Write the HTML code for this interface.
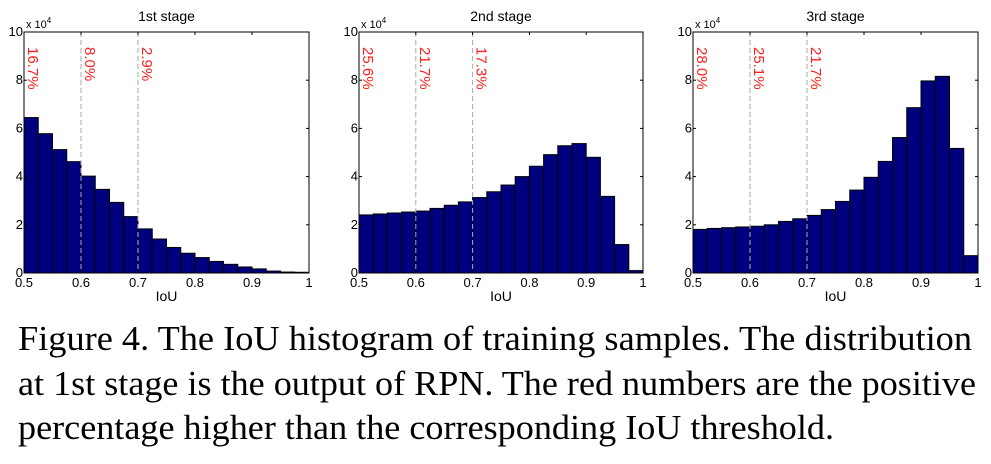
<!DOCTYPE html>
<html><head><meta charset="utf-8">
<style>
html,body{margin:0;padding:0;background:#fff;width:991px;height:464px;overflow:hidden}
svg{display:block}
</style></head>
<body>
<svg id="fig" width="991" height="464" viewBox="0 0 991 464" xmlns="http://www.w3.org/2000/svg" font-family="'Liberation Sans', sans-serif">
<g id="charts"></g>
<g font-family="'Liberation Serif', serif" font-size="35" fill="#000">
<text x="18" y="350" textLength="954" lengthAdjust="spacingAndGlyphs">Figure 4. The IoU histogram of training samples. The distribution</text>
<text x="18" y="395" textLength="958" lengthAdjust="spacingAndGlyphs">at 1st stage is the output of RPN. The red numbers are the positive</text>
<text x="18" y="439" textLength="816" lengthAdjust="spacingAndGlyphs">percentage higher than the corresponding IoU threshold.</text>
</g>
</svg>
<script>
const titles = ["1st stage","2nd stage","3rd stage"];
const stage1 = [6.45,5.78,5.12,4.62,4.02,3.47,2.93,2.34,1.83,1.41,1.06,0.82,0.64,0.48,0.36,0.25,0.17,0.08,0.04,0.03];
const stage2 = [2.41,2.45,2.49,2.53,2.57,2.68,2.81,2.95,3.13,3.37,3.65,4.0,4.43,4.91,5.28,5.37,4.8,3.18,1.18,0.1];
const stage3 = [1.81,1.85,1.88,1.91,1.94,2.0,2.14,2.25,2.39,2.63,2.97,3.44,3.97,4.63,5.62,6.86,7.97,8.16,5.17,0.72];
const thresholds = [0.5,0.6,0.7];
const pct1 = ["16.7%","8.0%","2.9%"];
const pct2 = ["25.6%","21.7%","17.3%"];
const pct3 = ["28.0%","25.1%","21.7%"];
const xTicks = [0.5,0.6,0.7,0.8,0.9,1];
const xTickLabels = ["0.5","0.6","0.7","0.8","0.9","1"];
const yTicks = [0,2,4,6,8,10];
const yTickLabels = ["0","2","4","6","8","10"];

const NS="http://www.w3.org/2000/svg";
const series=[stage1,stage2,stage3];
const pcts=[pct1,pct2,pct3];
const lefts=[24,359,693], rights=[309,643,978];
const plotTop=32, plotBottom=273;
const root=document.getElementById('charts');
function mk(tag,attrs,parent){const e=document.createElementNS(NS,tag);for(const k in attrs)e.setAttribute(k,attrs[k]);parent.appendChild(e);return e;}

for(let c=0;c<3;c++){
  const L=lefts[c],R=rights[c];
  const xs=v=>L+(v-0.5)/0.5*(R-L);
  const ys=v=>plotBottom-v/10*(plotBottom-plotTop);
  const g=mk('g',{},root);
  
  
  const data=series[c];
  data.forEach((v,i)=>{
    const x0=xs(0.5+i*0.025),x1=xs(0.5+(i+1)*0.025);
    const r=mk('rect',{x:x0,y:ys(v),width:x1-x0,height:ys(0)-ys(v),fill:'#00007f',stroke:'#000','stroke-width':1},g);
    
    
  });
  thresholds.forEach((t,i)=>{
    const ln=mk('line',{x1:xs(t),x2:xs(t),y1:plotTop,y2:plotBottom,stroke:i==0?'#000':'#aaa','stroke-width':1,'stroke-dasharray':'5,3'},g);
    
    
    const tx=xs(t)+4, ty=47;
    const tt=mk('text',{x:tx,y:ty,transform:`rotate(90 ${tx} ${ty})`,fill:'#ff2020','font-size':15},g);
    tt.textContent=pcts[c][i];
    
    
  });
  const fr=mk('rect',{x:L,y:plotTop,width:R-L,height:plotBottom-plotTop,fill:'none',stroke:'#000','stroke-width':1},g);
  
  
  xTicks.forEach((t,i)=>{
    mk('line',{x1:xs(t),x2:xs(t),y1:plotBottom,y2:plotBottom-3,stroke:'#000'},g);
    mk('line',{x1:xs(t),x2:xs(t),y1:plotTop,y2:plotTop+3,stroke:'#000'},g);
    const lb=mk('text',{x:xs(t),y:plotBottom+14,'text-anchor':'middle','font-size':13,fill:'#000'},g);
    lb.textContent=xTickLabels[i];
    
    
  });
  yTicks.forEach((t,i)=>{
    mk('line',{x1:L,x2:L+3,y1:ys(t),y2:ys(t),stroke:'#000'},g);
    mk('line',{x1:R,x2:R-3,y1:ys(t),y2:ys(t),stroke:'#000'},g);
    const lb=mk('text',{x:L-1,y:ys(t)+4,'text-anchor':'end','font-size':13,fill:'#000'},g);
    lb.textContent=yTickLabels[i];
    
    
  });
  const sc=mk('text',{x:L+2,y:plotTop-4,'font-size':11,fill:'#000'},g);
  sc.innerHTML='x 10<tspan dy="-5" font-size="8">4</tspan>';
  
  
  const ti=mk('text',{x:(L+R)/2,y:21,'text-anchor':'middle','font-size':14,fill:'#000'},g);
  ti.textContent=titles[c];
  
  
  const xl=mk('text',{x:(L+R)/2,y:301,'text-anchor':'middle','font-size':14,fill:'#000'},g);
  xl.textContent='IoU';
  
  
}
</script>
</body></html>
